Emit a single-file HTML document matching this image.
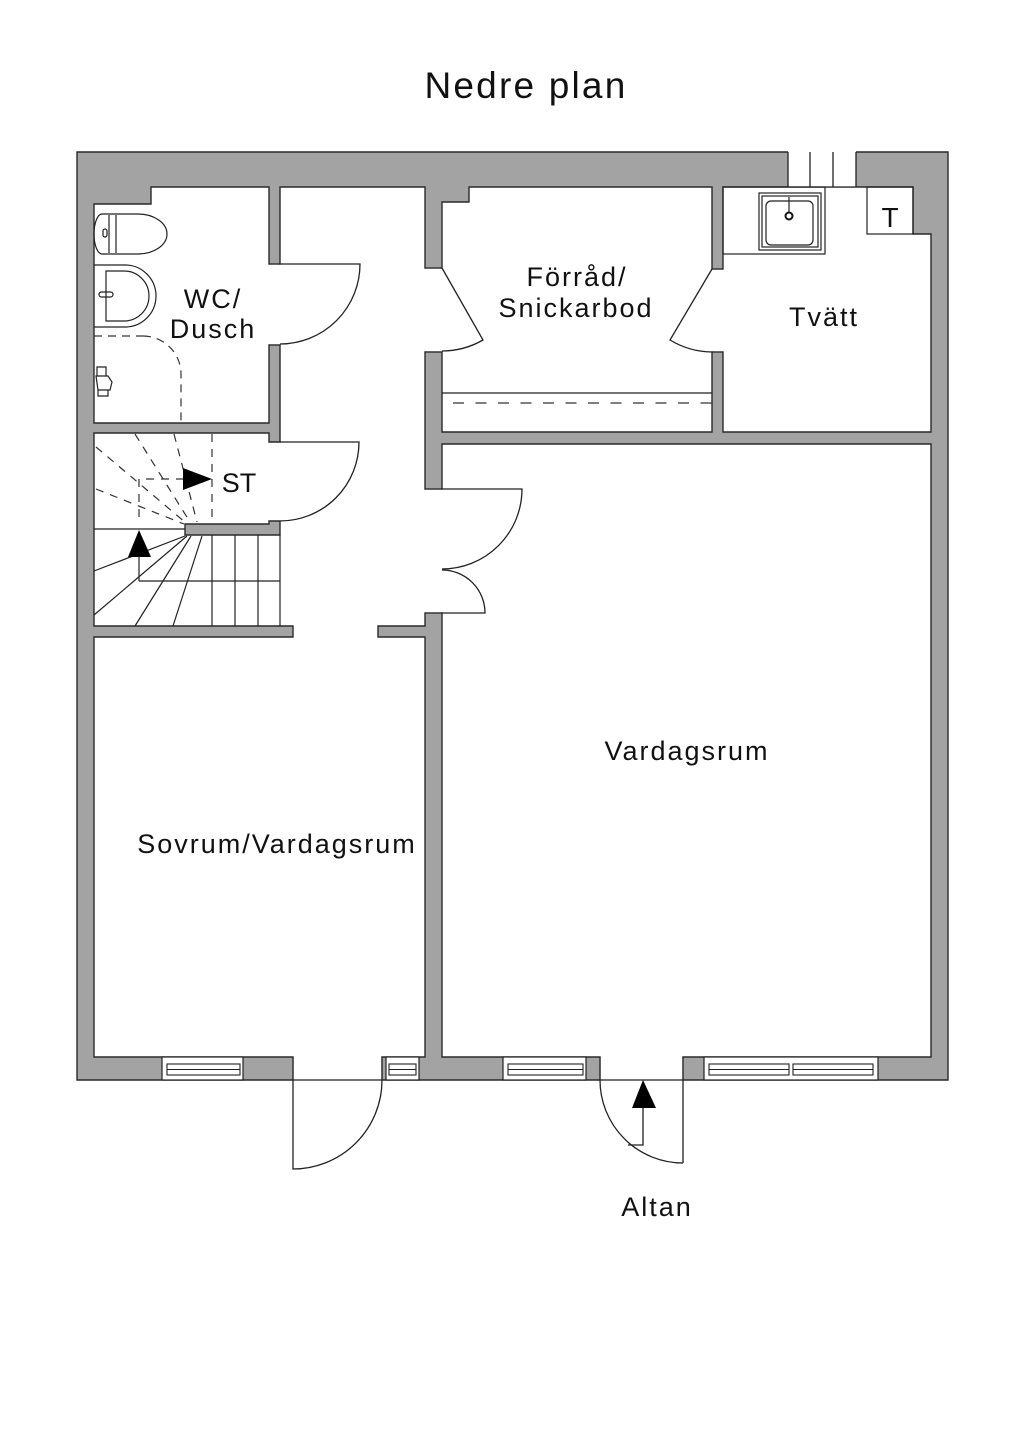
<!DOCTYPE html>
<html><head><meta charset="utf-8"><style>
html,body{margin:0;padding:0;background:#fff;}
svg{display:block;}
text{font-family:"Liberation Sans",sans-serif;fill:#111;}
</style></head><body>
<svg width="1024" height="1449" viewBox="0 0 1024 1449" xmlns="http://www.w3.org/2000/svg">
<rect x="0" y="0" width="1024" height="1449" fill="#fff"/>
<text x="526" y="98" font-size="37" letter-spacing="2.2" text-anchor="middle">Nedre plan</text>

<!-- wall mass -->
<path fill="#a3a3a3" fill-rule="evenodd" stroke="#2a2a2a" stroke-width="1.4" d="
M77,152 H948 V1080 H77 Z
M94,204 H151 V187 H269 V423 H94 Z
M280,187 H425 V626 H378 V637 H425 V1057 H94 V637 H293 V626 H94 V433 H269 V442 H280 Z
M442,202 H469 V187 H712 V432 H442 Z
M723,187 H913 V234 H931 V432 H723 Z
M442,444 H931 V1057 H442 Z"/>
<!-- stair stub -->
<path fill="#a3a3a3" stroke="#2a2a2a" stroke-width="1.4" d="M185,524 H269 V521 H280 V535 H185 Z"/>

<!-- door openings -->
<g fill="#fff" stroke="none">
<rect x="268" y="264.7" width="13" height="79.6"/>
<rect x="424" y="268.7" width="19" height="82.6"/>
<rect x="711" y="269.7" width="13" height="81.6"/>
<rect x="424" y="489.7" width="19" height="122.6"/>
<rect x="293.7" y="1056" width="87.6" height="25.5"/>
<rect x="600.7" y="1056" width="81.6" height="25.5"/>
<rect x="788" y="151" width="68" height="35.3"/>
</g>

<g fill="none" stroke="#222" stroke-width="1.3">
<!-- caps -->
<path d="M269,264 H280 M269,345 H280 M425,268 H442 M425,352 H442 M712,269 H723 M712,352 H723 M425,489 H442 M425,613 H442 M293,1057 V1080 M382,1057 V1080 M600,1057 V1080 M683,1057 V1080"/>
<!-- vent -->
<path d="M788,152 V187 M810,152 V187 M833,152 V187 M856,152 V187"/>
<!-- WC door -->
<path d="M280,264 H360 A80,80 0 0 1 280,344"/>
<!-- ST door -->
<path d="M280,442 H359 A79,79 0 0 1 280,521"/>
<!-- Förråd doors -->
<path d="M442,268 L483,340 A83,83 0 0 1 442,351"/>
<path d="M712,269 L670,340 A83,83 0 0 0 712,352"/>
<!-- Vardagsrum double door -->
<path d="M442,489 H522 A80,80 0 0 1 442,569"/>
<path d="M442,613 H485 A43,43 0 0 0 442,570"/>
<!-- Sovrum exterior door -->
<path d="M293,1080 H382 M293,1080 V1169 A89,89 0 0 0 382,1080"/>
<!-- Altan door -->
<path d="M600,1080 H683 M683,1080 V1163 M600,1080 A83,83 0 0 0 683,1163"/>
<path d="M643,1108 V1145 H628"/>
</g>
<polygon points="643,1080 632,1108 656,1108" fill="#000"/>

<!-- windows -->
<g fill="#fff" stroke="#222" stroke-width="1.2">
<rect x="162" y="1057" width="81" height="23"/>
<rect x="386" y="1057" width="33" height="23"/>
<rect x="503" y="1057" width="83" height="23"/>
<rect x="704" y="1057" width="174" height="23"/>
</g>
<g fill="none" stroke="#222" stroke-width="1.1">
<rect x="167" y="1064" width="73" height="11"/><path d="M167,1069.5 H240"/>
<rect x="389" y="1064" width="27" height="11"/><path d="M389,1069.5 H416"/>
<rect x="508" y="1064" width="75" height="11"/><path d="M508,1069.5 H583"/>
<rect x="709" y="1064" width="80" height="11"/><path d="M709,1069.5 H789"/>
<rect x="793" y="1064" width="80" height="11"/><path d="M793,1069.5 H873"/>
</g>

<!-- Förråd shelf -->
<path d="M442,393 H712" stroke="#222" stroke-width="1.2" fill="none"/>
<path d="M453,403 H712" stroke="#333" stroke-width="1.2" fill="none" stroke-dasharray="11 11.5"/>

<!-- Tvätt fixtures -->
<g fill="none" stroke="#222" stroke-width="1.2">
<rect x="723" y="187" width="102" height="67"/>
<rect x="759" y="193" width="62" height="57"/>
<rect x="762" y="196" width="56" height="51"/>
<rect x="766" y="201" width="47" height="44" rx="5"/>
<path d="M789,197 V213"/>
<rect x="867" y="187" width="46" height="47"/>
</g>
<circle cx="789" cy="216" r="3.5" fill="none" stroke="#111" stroke-width="2"/>
<text x="890" y="227" font-size="28" text-anchor="middle">T</text>

<!-- WC fixtures -->
<g fill="none" stroke="#222" stroke-width="1.2">
<path d="M102,214 H138 A29,20 0 0 1 138,254 H102 A8,20 0 0 1 102,214 Z"/>
<path d="M109,215 V253 M116,215 V253"/>
<rect x="103" y="229" width="4" height="8" rx="2"/>
<path d="M94,265 H125 A31,31 0 0 1 125,327 H94"/>
<path d="M106,271 H124 A25,25 0 0 1 124,321 H106 Z"/>
<rect x="99" y="292" width="14" height="5" rx="2.5"/>
<path d="M97,367 h9 v9 h-9 z M96,376 h12 l4,6 l-2,8 h-12 z M98,390 h10 v6 h-10 z"/>
</g>
<g fill="none" stroke="#333" stroke-width="1.2" stroke-dasharray="8 6">
<path d="M94,336 H143"/>
<path d="M143,336 A38,38 0 0 1 181,374 V422"/>
</g>

<!-- stairs -->
<g fill="none" stroke="#333" stroke-width="1.2" stroke-dasharray="8 7">
<path d="M212,434 V521"/>
<path d="M96,447 L186,523"/>
<path d="M96,489 L184,524"/>
<path d="M135,434 L190,522"/>
<path d="M174,434 L197,522"/>
<path d="M139,517 V479 H183"/>
</g>
<polygon points="183,468 183,490 212,479" fill="#000"/>
<g fill="none" stroke="#222" stroke-width="1.2">
<path d="M94,529 H185"/>
<path d="M212,535 V626 M235,535 V626 M258,535 V626 M280,535 V626"/>
<path d="M139,581 H280 M139,557 V581"/>
<path d="M185,536 L94,571 M187,536 L94,615 M191,536 L135,626 M202,536 L173,626"/>
</g>
<polygon points="139,530 128,557 151,557" fill="#000"/>

<!-- labels -->
<g font-size="27" letter-spacing="2" text-anchor="middle">
<text x="213" y="308">WC/</text>
<text x="213" y="338">Dusch</text>
<text x="577" y="286">Förråd/</text>
<text x="576" y="317">Snickarbod</text>
<text x="824" y="326">Tvätt</text>
<text x="687" y="760">Vardagsrum</text>
<text x="277" y="853">Sovrum/Vardagsrum</text>
<text x="657" y="1216">Altan</text>
</g>
<text x="239" y="492" font-size="27" text-anchor="middle">ST</text>
</svg>
</body></html>
